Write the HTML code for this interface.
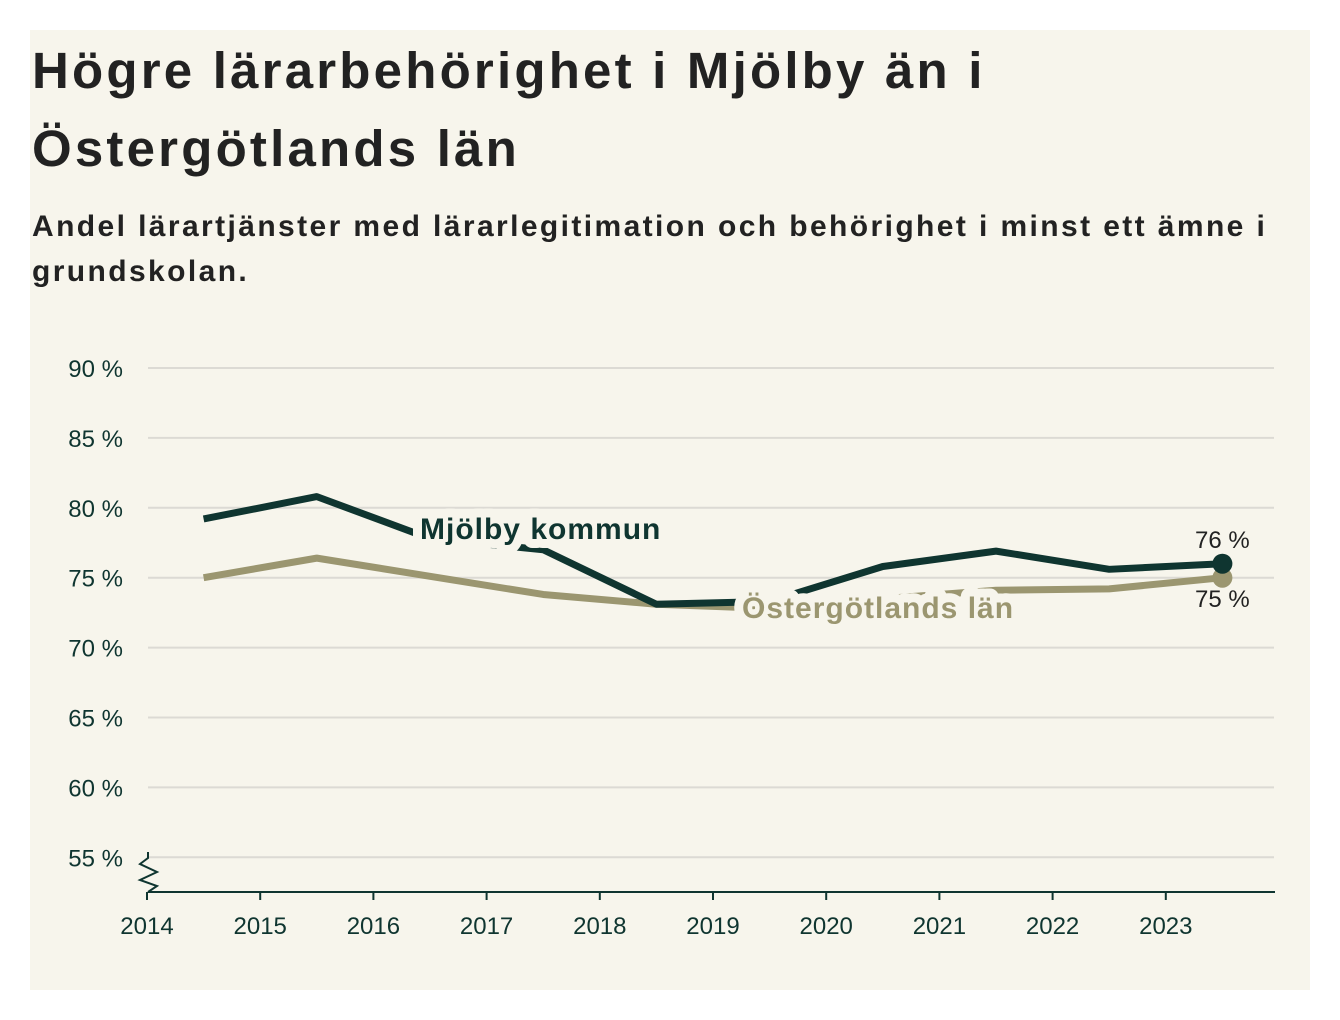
<!DOCTYPE html>
<html><head><meta charset="utf-8"><style>
body{margin:0;background:#fff;width:1340px;height:1020px;overflow:hidden;font-family:"Liberation Sans",sans-serif}
#card{position:absolute;left:30px;top:30px;width:1280px;height:960px;background:#f7f5ec}
h1{position:absolute;left:2px;top:2px;margin:0;font-size:51px;font-weight:bold;line-height:78px;color:#222;white-space:nowrap;letter-spacing:3.2px}
h2{position:absolute;left:2px;top:174px;margin:0;font-size:30px;font-weight:bold;line-height:45px;color:#222;white-space:nowrap;letter-spacing:2.4px}
svg{position:absolute;left:0;top:0}
</style></head><body>
<div id="card">
<h1>Högre lärarbehörighet i Mjölby än i<br>Östergötlands län</h1>
<h2>Andel lärartjänster med lärarlegitimation och behörighet i minst ett ämne i<br>grundskolan.</h2>
</div>
<svg id="chart" width="1340" height="1020"></svg>
<script>
const years=[2014.5,2015.5,2016.5,2017.5,2018.5,2019.5,2020.5,2021.5,2022.5,2023.5];
const mjolby=[79.2,80.8,77.8,77.0,73.1,73.3,75.8,76.9,75.6,76.0];
const ostergotland=[75.0,76.4,75.1,73.8,73.1,72.8,73.5,74.1,74.2,75.0];
const yTicks=[55,60,65,70,75,80,85,90];
const xTicks=[2014,2015,2016,2017,2018,2019,2020,2021,2022,2023];
const NS='http://www.w3.org/2000/svg';
const svg=document.getElementById('chart');
const x=v=>147+(v-2014)*113.2;
const y=v=>368+(90-v)*13.98;
function mk(t,a,p){const e=document.createElementNS(NS,t);for(const k in a)e.setAttribute(k,a[k]);(p||svg).appendChild(e);return e;}
yTicks.forEach(t=>{
 const g=mk('line',{x1:148,x2:1274,y1:y(t),y2:y(t),stroke:'#dcdad4','stroke-width':2});
 
 
 const l=mk('text',{x:123,y:y(t)+9,'text-anchor':'end','font-size':24,fill:'#0f3530'});l.textContent=t+' %';
 
 
});
const ax=mk('line',{x1:148,x2:1275,y1:892,y2:892,stroke:'#0f3530','stroke-width':2});


const br=mk('path',{d:'M148,852 L148,858 L140,864 L157,872 L140,880 L157,886 L148,892',fill:'none',stroke:'#0f3530','stroke-width':2});


xTicks.forEach(t=>{
 const k=mk('line',{x1:x(t),x2:x(t),y1:892,y2:900,stroke:'#0f3530','stroke-width':2});
 
 
 const l=mk('text',{x:x(t),y:934,'text-anchor':'middle','font-size':24,fill:'#0f3530'});l.textContent=t;
 
 
});
function line(vals,col,name){
 const p=mk('polyline',{points:vals.map((v,i)=>x(years[i])+','+y(v)).join(' '),fill:'none',stroke:col,'stroke-width':7,'stroke-linejoin':'round'});
 
 
 const n=vals.length-1;
 const c=mk('circle',{cx:x(years[n]),cy:y(vals[n]),r:10,fill:col});
 
 
}
line(ostergotland,'#9b9670','ostergotland-line');
line(mjolby,'#0f3530','mjolby-line');
function lab(txt,xx,yy,col,name,size,halo,w,ls){
 const t=mk('text',{x:xx,y:yy,'font-size':size,'font-weight':w,'letter-spacing':ls,fill:col,stroke:'#f7f5ec','stroke-width':halo,'paint-order':'stroke','stroke-linejoin':'round'});t.textContent=txt;
 
 
}
lab('Mjölby kommun',420,539,'#0f3530','mjolby-label',30,18,'bold',1);
lab('Östergötlands län',742,618,'#9b9670','ostergotland-label',30,18,'bold',1);
lab(Math.round(mjolby[9])+' %',1195,548,'#222','mjolby-value-label',24,4,'normal',0);
lab(Math.round(ostergotland[9])+' %',1195,607,'#222','ostergotland-value-label',24,4,'normal',0);
</script>
</body></html>
